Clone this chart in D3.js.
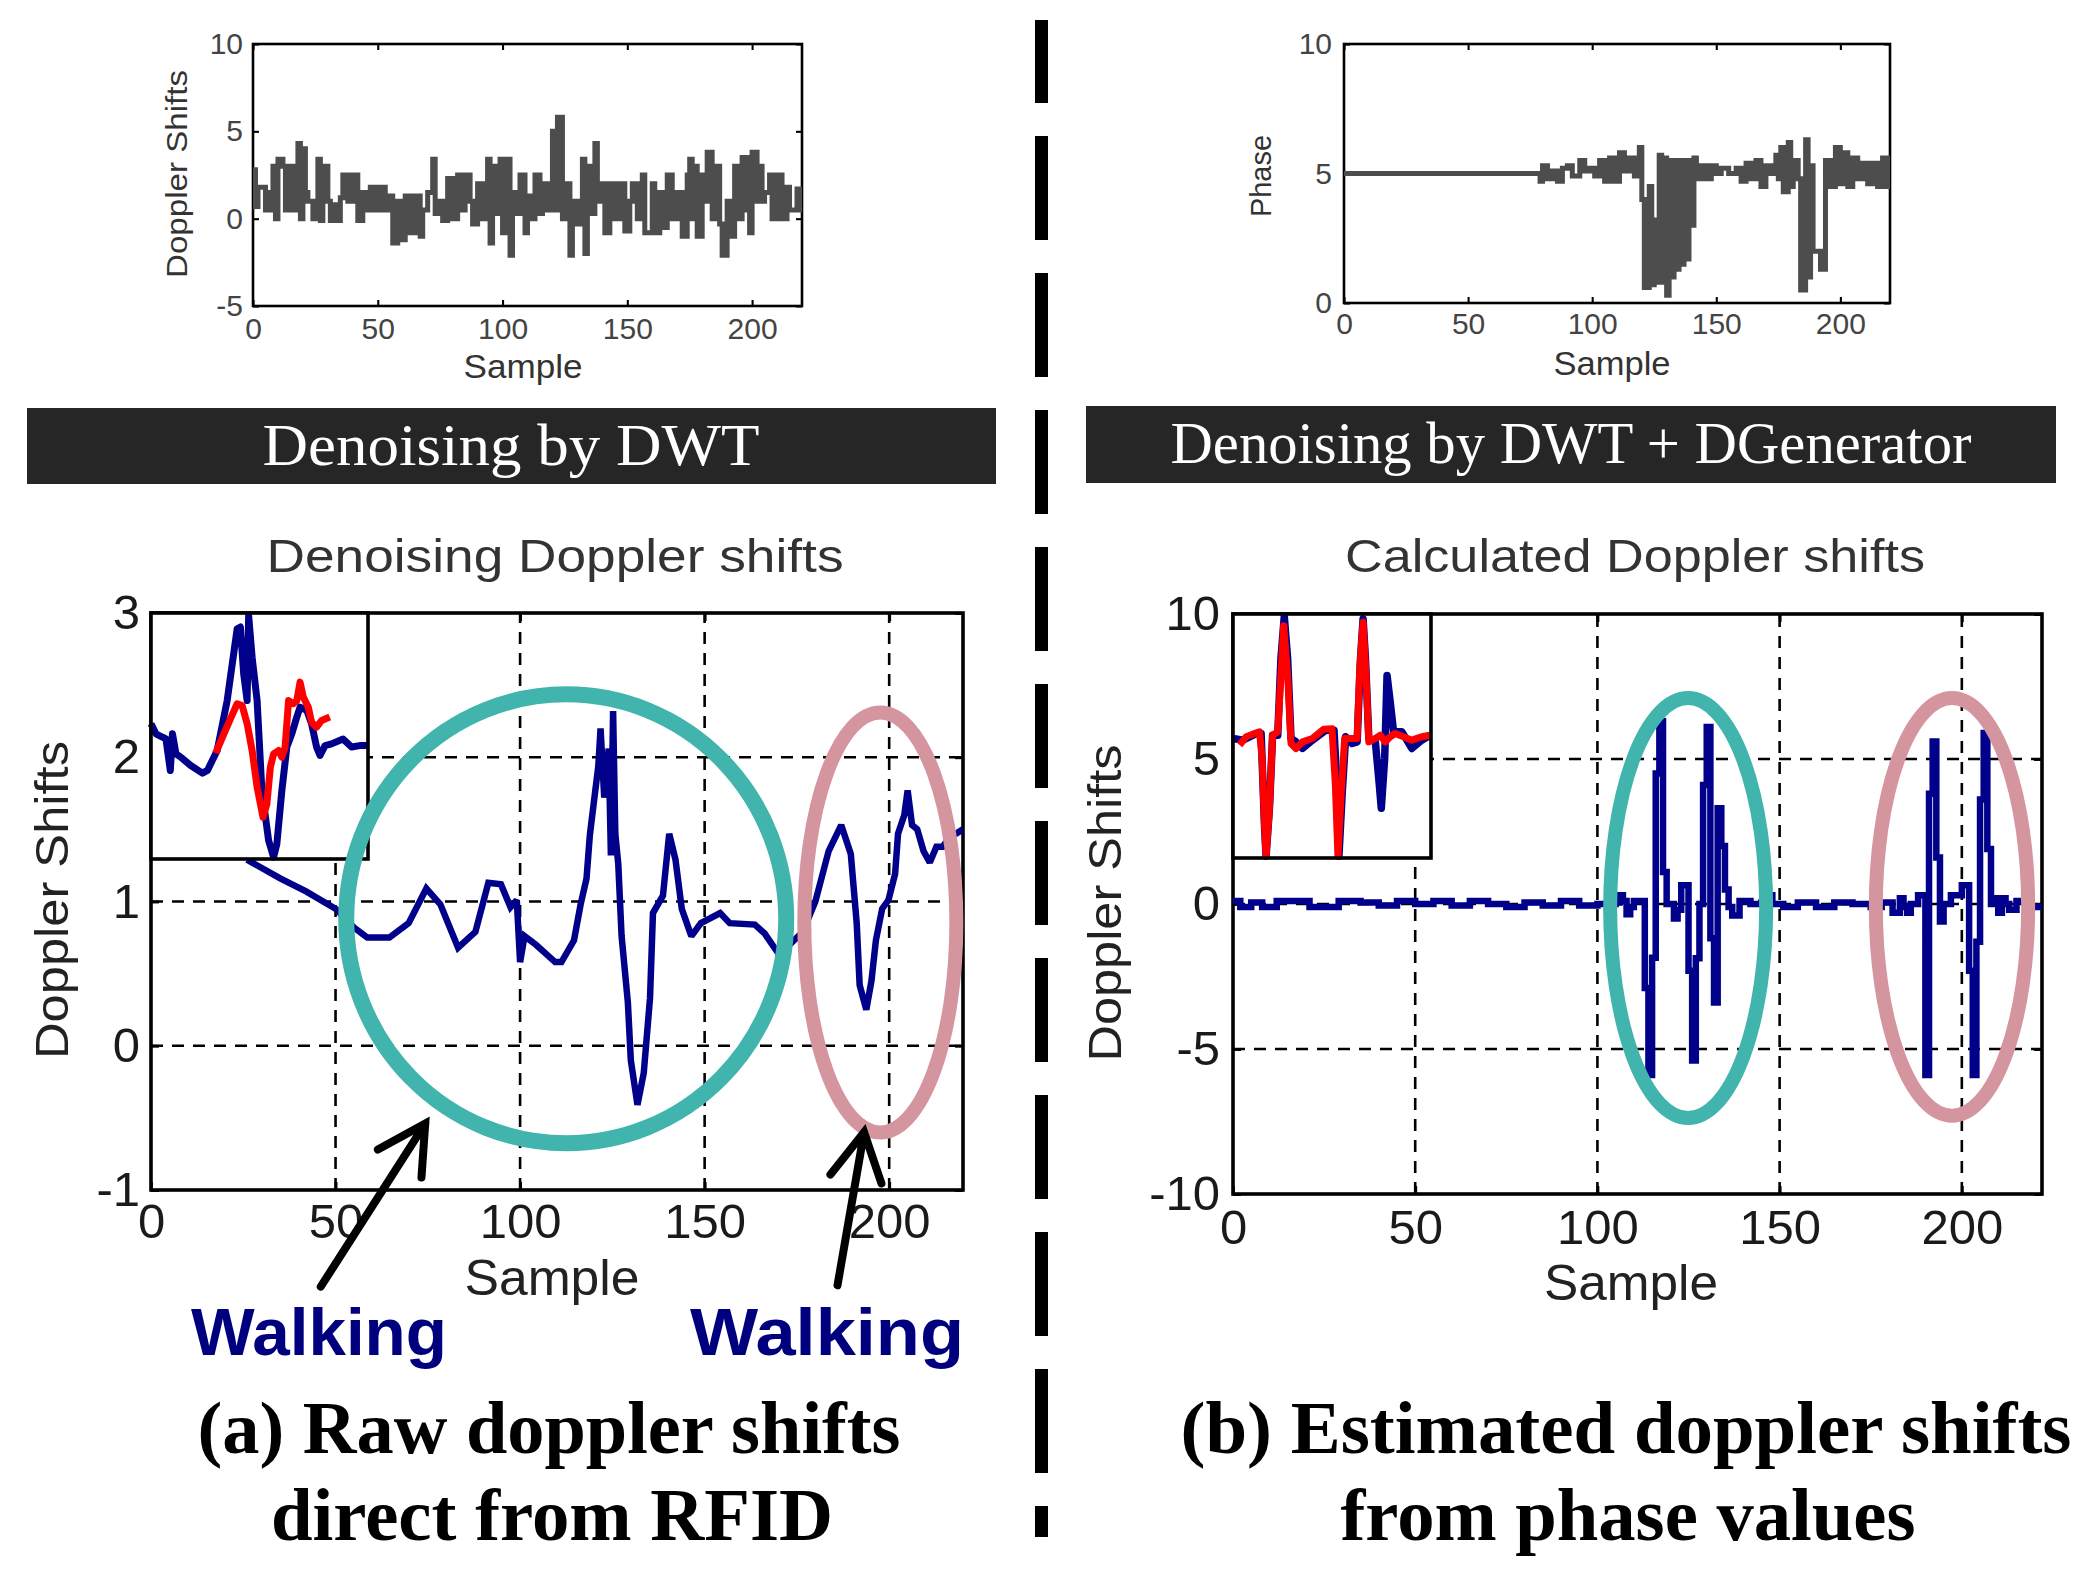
<!DOCTYPE html>
<html><head><meta charset="utf-8">
<script src="https://cdn.jsdelivr.net/npm/d3@7"></script>
<style>body{margin:0;background:#fff} svg{display:block}</style>
</head><body><svg id="c" width="2097" height="1583"></svg>
<script>
// ---------------- DATA ----------------
const sampleTicks = [0, 50, 100, 150, 200];
const rawDopplerTicksY = [-5, 0, 5, 10];
const phaseTicksY = [0, 5, 10];
const denoisedTicksY = [-1, 0, 1, 2, 3];
const calculatedTicksY = [-10, -5, 0, 5, 10];

// top-left: raw Doppler shifts [sample, value]
const rawDoppler = [[0,2.8],[1,0.7],[2,1.8],[4,1.8],[5,0.5],[7,1.5],[8,3.0],[9,0.0],[10,3.4],[12,3.0],[13,0.5],[15,3.0],[16,0.5],[17,2.0],[18,4.3],[19,0.0],[20,4.0],[21,1.5],[22,1.0],[24,0.0],[25,1.0],[26,3.4],[27,-0.1],[28,3.0],[30,1.0],[31,-0.1],[33,0.8],[34,-0.1],[35,1.2],[36,2.5],[38,1.0],[40,2.5],[42,-0.1],[44,1.5],[45,0.5],[47,1.8],[49,0.5],[51,1.8],[53,0.5],[55,1.3],[56,-1.4],[58,1.0],[60,-1.2],[61,1.3],[63,-0.8],[65,1.3],[67,-1.0],[68,0.5],[70,1.5],[72,3.4],[73,0.3],[75,1.0],[76,-0.1],[78,2.3],[80,0.0],[82,2.5],[83,0.5],[85,2.5],[87,1.0],[88,-0.3],[90,2.0],[92,0.0],[94,3.4],[95,-1.4],[96,3.0],[98,0.3],[99,3.4],[100,-0.8],[101,3.4],[103,-2.1],[104,1.5],[106,0.3],[107,2.5],[109,-0.8],[110,1.3],[112,0.0],[113,2.5],[115,0.3],[116,2.0],[118,0.5],[120,5.0],[121,0.5],[122,5.8],[124,0.0],[125,2.0],[127,-2.1],[128,1.0],[130,-0.3],[132,3.4],[133,-2.0],[134,3.0],[135,0.3],[137,4.3],[138,1.0],[139,2.0],[141,-0.8],[143,2.0],[145,0.0],[147,2.0],[149,-0.7],[151,1.0],[152,2.0],[154,0.0],[156,2.5],[157,-0.8],[160,2.0],[161,-0.8],[163,1.5],[164,-0.5],[166,2.5],[168,0.0],[170,1.5],[172,-1.0],[174,2.5],[175,3.4],[176,0.0],[177,3.0],[178,-1.0],[180,2.5],[181,1.0],[182,3.8],[184,0.0],[185,3.0],[187,-0.3],[188,-2.1],[190,1.0],[191,-1.0],[193,3.0],[194,0.0],[196,3.5],[197,0.5],[198,3.5],[199,-0.8],[200,3.8],[202,1.0],[203,3.0],[204,1.0],[205,1.5],[207,2.5],[208,0.0],[210,2.5],[212,0.0],[214,1.8],[215,0.5],[218,1.7],[219,0.5],[220,1.6]];

// top-right: phase [sample, value]
const phaseValues = [[0,5.0],[78,5.0],[79,4.7],[80,5.3],[82,4.8],[84,5.1],[86,4.7],[88,5.2],[90,5.3],[92,4.9],[95,5.5],[97,5.1],[99,5.2],[101,4.9],[103,5.5],[105,4.7],[107,5.6],[109,4.7],[111,5.8],[113,5.1],[115,5.6],[117,4.9],[119,6.0],[120,4.0],[121,0.6],[122,0.6],[123,4.5],[124,0.7],[125,3.2],[126,0.8],[127,5.7],[128,0.8],[129,5.6],[130,0.3],[131,5.5],[132,1.0],[133,5.5],[134,1.3],[135,5.5],[136,1.5],[137,5.5],[138,1.7],[139,5.5],[140,3.0],[141,5.6],[142,4.8],[144,5.3],[146,4.8],[148,5.3],[150,5.0],[152,5.2],[155,5.0],[158,5.2],[160,4.7],[162,5.4],[164,4.8],[166,5.5],[168,4.5],[170,5.3],[172,5.0],[174,5.7],[175,4.8],[176,6.0],[177,4.3],[179,6.2],[180,4.5],[181,5.5],[183,4.8],[184,0.5],[186,6.3],[187,1.0],[188,5.3],[189,2.0],[191,2.0],[192,1.3],[193,1.3],[194,5.5],[196,4.5],[198,6.0],[200,4.6],[201,5.8],[203,4.5],[205,5.6],[207,4.8],[209,5.4],[211,4.6],[213,5.4],[215,4.5],[217,5.6],[219,4.5],[220,5.3]];

// bottom-left: denoised Doppler shifts [sample, value]
const denoisedDoppler = [[26,1.29],[35,1.16],[42,1.07],[50,0.95],[55,0.82],[58.6,0.75],[64.6,0.75],[69.8,0.85],[74.6,1.09],[78.4,0.98],[83.2,0.68],[87.9,0.79],[91.4,1.13],[94.8,1.12],[97.4,0.96],[99.1,1.01],[100,0.58],[101.2,0.76],[104.3,0.70],[109.5,0.58],[111.2,0.58],[114.6,0.73],[116.4,0.98],[118,1.16],[118.9,1.46],[120,1.69],[121.2,1.94],[121.8,2.2],[122.8,1.72],[124,2.06],[124.6,1.32],[125.2,2.32],[125.8,1.47],[126.6,1.26],[127.5,0.76],[129.2,0.30],[130,-0.10],[131.8,-0.41],[133.5,-0.19],[135.2,0.33],[136,0.92],[138.7,1.04],[140.4,1.47],[142.1,1.29],[143.8,0.95],[146.4,0.76],[149,0.85],[154.2,0.92],[156.8,0.85],[163.6,0.84],[166.2,0.78],[169.7,0.65],[173,0.70],[176.6,0.79],[180,1.0],[183.6,1.35],[187,1.53],[189.6,1.33],[191.2,0.85],[192,0.42],[193.8,0.25],[195.2,0.45],[196.4,0.73],[198.1,0.95],[199.8,1.01],[201.6,1.19],[202.4,1.47],[204.1,1.60],[205,1.77],[206.2,1.53],[207.6,1.50],[209.3,1.35],[211,1.27],[212.8,1.38],[214.5,1.38],[216.2,1.44],[220,1.5]];

// bottom-left inset (zoomed view, normalised 0..100)
const denoisedInsetBlue = [[0,55],[2.3,50.9],[5.3,49.5],[6.9,48.8],[8.9,36],[9.9,50.9],[11.5,42.7],[13.7,41.4],[18.3,38],[23.7,34.9],[26,36],[30.5,44.1],[35.1,64.4],[39.7,93.6],[41.2,94.3],[42.7,75.3],[44.3,64.4],[45,99],[46.6,82],[48.9,64.4],[51.1,27.8],[54.2,7.5],[56.5,0.7],[58,6.1],[60.3,27.8],[62.6,45.5],[64.9,50.9],[67.2,57.7],[68.7,61.7],[71.8,60.4],[74,55],[76.3,45.5],[77.9,42.1],[80.2,46.1],[83.2,46.8],[88.5,48.8],[92.4,45.5],[96.2,46.1],[100,46.1]];
const denoisedInsetRed = [[29.8,43],[33.6,50.9],[36.6,57],[39.7,63.1],[42,62.4],[44.3,55],[46.6,44.1],[48.9,29.2],[51.6,17],[53.4,22.4],[55,37.3],[56.5,42.7],[58.8,44.1],[60.3,41.4],[61.8,45.5],[63.4,64.4],[65.6,63.1],[67.2,64.4],[68.7,71.9],[70.2,65.8],[72.5,61.7],[74,55.6],[76.3,53.6],[78.6,56.3],[82.4,57.7]];

// bottom-right: calculated Doppler shifts [sample, value] (held per sample)
const calculatedDoppler = [[0,0.1],[2,-0.1],[5,0.05],[8,-0.1],[12,0.1],[20,0.1],[21,-0.1],[28,-0.1],[29,0.1],[35,0.05],[40,-0.05],[45,0.1],[50,0],[55,0.1],[60,-0.05],[65,0.1],[70,0],[75,-0.1],[80,0.05],[85,-0.05],[90,0.1],[95,-0.05],[100,0],[105,0.05],[106,0.3],[107,0.1],[108,-0.35],[109,-0.1],[110,0.1],[112,0.1],[113,-2.9],[114,-5.9],[115,-1.85],[116,4.5],[117,6.3],[118,1.1],[119,0.0],[120,0.0],[121,-0.5],[122,-0.2],[123,0.65],[125,-2.3],[126,-5.4],[127,-1.87],[128,0.0],[129,4.1],[130,6.1],[131,-1.18],[132,-3.4],[133,3.3],[134,2.0],[135,0.5],[136,-0.1],[137,-0.4],[139,0.1],[142,0.0],[145,0.05],[147,0.3],[148,0.0],[151,-0.1],[155,0.05],[160,-0.1],[165,0.05],[170,0],[175,-0.1],[178,0.05],[181,-0.3],[183,0.2],[184,-0.1],[185,-0.3],[186,0.0],[188,0.3],[190,-5.9],[191,3.8],[192,5.6],[193,1.6],[194,-0.6],[195,0.0],[197,0.3],[200,0.65],[202,-2.3],[203,-5.9],[204,-1.3],[205,3.6],[206,5.9],[207,1.9],[208,0.0],[209,0.2],[210,-0.3],[211,0.2],[212,0.0],[213,-0.2],[215,0.1],[218,-0.1],[222,0]];

// bottom-right inset (zoomed view, normalised 0..100)
const calcInsetBlue = [[0,49],[5,48.3],[11.7,51],[14.2,51],[15.9,13.6],[16.7,0.7],[18.4,20.4],[20,50.3],[22.6,50.3],[24.2,81.6],[25.9,99],[27.6,81.6],[29.3,49],[31.8,47.6],[35.1,44.9],[40.1,48.3],[46.8,52.4],[51,52.4],[52.7,27.2],[53.5,0.7],[55.2,27.2],[56.9,49.7],[60.2,46.9],[62.7,47.6],[64.4,81.6],[65.7,98],[66.9,81.6],[68.6,49],[71.9,47.6],[73.6,32.7],[74.9,20.4],[76.6,40.8],[77.8,74.8],[79.4,64],[81.1,51.7],[85.3,51.7],[90.3,44.9],[95.3,48.3],[99.5,50.3]];
const calcInsetRed = [[3.3,46.3],[6.7,49.7],[10.9,51],[13.4,51.7],[14.7,40.8],[15.9,13.6],[16.7,0.7],[18.4,20.4],[20,50.3],[22.6,51.7],[24.2,74.8],[25.6,95.2],[27.6,74.8],[29.3,46.9],[31.8,44.9],[35.1,47.6],[40.1,49],[45.8,52.8],[50,53],[51.7,29.9],[53,0.7],[54.7,27.2],[56.4,49],[60.2,49],[62.7,49],[64,77.6],[65.7,96.6],[67.2,74.8],[68.6,47.6],[71.9,49],[74.4,50.3],[76.9,47.6],[79.4,49.7],[81.9,51],[86.1,49.7],[90.3,48.3],[95.3,49.7],[99.5,50.3]];

// annotations in data units [centerSample, centerValue, radiusSamples, radiusValue]
const denoisedRings = [[112.5, 0.88, 59.6, 1.556], [197.6, 0.855, 20.6, 1.456]];
const calculatedRings = [[124.9, -0.14, 21.4, 7.24], [197.3, -0.10, 20.9, 7.2]];
// arrows [tailSample, tailValue, tipSample, tipValue]
const walkingArrows = [[46, -1.67, 74.3, -0.54], [186, -1.66, 193.2, -0.6]];

// ---------------- DRAWING ----------------
const svg = d3.select('#c');
const SANS = "'Liberation Sans', Arial, Helvetica, sans-serif";
const SERIF = "'Liberation Serif', 'Times New Roman', serif";
const BLUE = '#00008b';
const RED = '#ff0000';
const TEAL = '#41b4ad';
const PINK = '#d4959f';
const plain = d => String(d);
let clipId = 0;

function makePlot(o) {
  const g = svg.append('g');
  const x = d3.scaleLinear().domain(o.xDomain).range([o.left, o.right]);
  const y = d3.scaleLinear().domain(o.yDomain).range([o.bottom, o.top]);
  const cid = 'clip' + (clipId++);
  svg.append('clipPath').attr('id', cid).append('rect')
    .attr('x', o.left).attr('y', o.top).attr('width', o.right - o.left).attr('height', o.bottom - o.top);
  if (o.grid) {
    const gg = g.append('g').attr('stroke', '#000').attr('stroke-width', 2.6).attr('stroke-dasharray', '12,9');
    gg.selectAll('.vx').data(o.xTicks.filter(t => t > o.xDomain[0] && t < o.xDomain[1])).enter().append('line')
      .attr('x1', d => x(d)).attr('x2', d => x(d)).attr('y1', o.bottom).attr('y2', o.top);
    gg.selectAll('.hy').data(o.yTicks.filter(t => t > o.yDomain[0] && t < o.yDomain[1])).enter().append('line')
      .attr('y1', d => y(d)).attr('y2', d => y(d)).attr('x1', o.left).attr('x2', o.right);
  }
  const axB = g.append('g').attr('transform', `translate(0,${o.bottom})`)
    .call(d3.axisBottom(x).tickValues(o.xTicks).tickFormat(plain).tickSizeInner(-o.tick).tickSizeOuter(0).tickPadding(o.xPad));
  const axL = g.append('g').attr('transform', `translate(${o.left},0)`)
    .call(d3.axisLeft(y).tickValues(o.yTicks).tickFormat(plain).tickSizeInner(-o.tick).tickSizeOuter(0).tickPadding(o.yPad));
  const axT = g.append('g').attr('transform', `translate(0,${o.top})`)
    .call(d3.axisTop(x).tickValues(o.xTicks).tickSizeInner(-o.tick).tickSizeOuter(0).tickFormat(''));
  const axR = g.append('g').attr('transform', `translate(${o.right},0)`)
    .call(d3.axisRight(y).tickValues(o.yTicks).tickSizeInner(-o.tick).tickSizeOuter(0).tickFormat(''));
  [axB, axL, axT, axR].forEach(a => {
    a.select('.domain').remove();
    a.selectAll('line').attr('stroke', '#000').attr('stroke-width', o.box * 0.8);
    a.selectAll('text').attr('fill', o.tickColor).style('font-family', SANS).style('font-size', o.tickFont + 'px');
  });
  g.append('rect').attr('x', o.left).attr('y', o.top).attr('width', o.right - o.left).attr('height', o.bottom - o.top)
    .attr('fill', 'none').attr('stroke', '#000').attr('stroke-width', o.box);
  return { g, x, y, clip: `url(#${cid})`, o };
}

function drawLine(p, data, color, width, curve) {
  p.g.append('path').datum(data)
    .attr('clip-path', p.clip)
    .attr('fill', 'none').attr('stroke', color).attr('stroke-width', width)
    .attr('stroke-linejoin', 'miter').attr('stroke-miterlimit', 2)
    .attr('d', d3.line().x(d => p.x(d[0])).y(d => p.y(d[1])).curve(curve || d3.curveLinear));
}

function label(txt, x, y, size, opts) {
  opts = opts || {};
  const t = svg.append('text').attr('x', x).attr('y', y).text(txt)
    .attr('text-anchor', 'middle')
    .style('font-family', opts.family || SANS).style('font-size', size + 'px')
    .attr('fill', opts.fill || '#222');
  if (opts.bold) t.style('font-weight', 'bold');
  if (opts.len) t.attr('textLength', opts.len).attr('lengthAdjust', 'spacingAndGlyphs');
  if (opts.rotate) t.attr('transform', `rotate(-90,${x},${y})`).attr('dominant-baseline', 'central');
  return t;
}

function inset(p, w, h, blue, red, bw, rw) {
  const ix = d3.scaleLinear().domain([0, 100]).range([p.o.left, p.o.left + w]);
  const iy = d3.scaleLinear().domain([0, 100]).range([p.o.top + h, p.o.top]);
  const ig = p.g.append('g');
  ig.append('rect').attr('x', p.o.left).attr('y', p.o.top).attr('width', w).attr('height', h).attr('fill', '#fff');
  const ln = d3.line().x(d => ix(d[0])).y(d => iy(d[1]));
  ig.append('path').datum(blue).attr('fill', 'none').attr('stroke', BLUE).attr('stroke-width', bw).attr('stroke-linejoin', 'round').attr('d', ln);
  ig.append('path').datum(red).attr('fill', 'none').attr('stroke', RED).attr('stroke-width', rw).attr('stroke-linejoin', 'round').attr('d', ln);
  ig.append('rect').attr('x', p.o.left).attr('y', p.o.top).attr('width', w).attr('height', h)
    .attr('fill', 'none').attr('stroke', '#000').attr('stroke-width', 3.6);
}

function rings(p, list, colors, widths) {
  p.g.selectAll(null).data(list).enter().append('ellipse')
    .attr('cx', d => p.x(d[0])).attr('cy', d => p.y(d[1]))
    .attr('rx', d => p.x(d[0] + d[2]) - p.x(d[0]))
    .attr('ry', d => p.y(d[1]) - p.y(d[1] + d[3]))
    .attr('fill', 'none').attr('stroke', (d, i) => colors[i]).attr('stroke-width', (d, i) => widths[i]);
}

// ---- top-left: raw doppler
const pTL = makePlot({ left: 253, right: 802, top: 44, bottom: 306, xDomain: [0, 220], yDomain: [-5, 10],
  xTicks: sampleTicks, yTicks: rawDopplerTicksY, tick: 6, box: 2.6, tickFont: 30, xPad: 12, yPad: 10, tickColor: '#444' });
drawLine(pTL, rawDoppler, '#4d4d4d', 5, d3.curveStepAfter);
label('Sample', 523, 378, 33, { len: 119, fill: '#333' });
label('Doppler Shifts', 176, 174, 30, { rotate: true, len: 208, fill: '#333' });

// ---- top-right: phase
const pTR = makePlot({ left: 1344, right: 1890, top: 44, bottom: 303, xDomain: [0, 220], yDomain: [0, 10],
  xTicks: sampleTicks, yTicks: phaseTicksY, tick: 6, box: 2.6, tickFont: 30, xPad: 10, yPad: 12, tickColor: '#444' });
drawLine(pTR, phaseValues, '#4d4d4d', 5, d3.curveStepAfter);
label('Sample', 1612, 375, 33, { len: 117, fill: '#333' });
label('Phase', 1260, 176, 30, { rotate: true, len: 82, fill: '#333' });

// ---- banners
svg.append('rect').attr('x', 27).attr('y', 408).attr('width', 969).attr('height', 76).attr('fill', '#262626');
svg.append('rect').attr('x', 1086).attr('y', 406).attr('width', 970).attr('height', 77).attr('fill', '#262626');
label('Denoising by DWT', 511, 465, 60, { family: SERIF, fill: '#fff', len: 497 });
label('Denoising by DWT + DGenerator', 1571, 463, 60, { family: SERIF, fill: '#fff', len: 801 });

// ---- vertical dashed separator
svg.append('line').attr('x1', 1041.5).attr('x2', 1041.5).attr('y1', 20).attr('y2', 1537)
  .attr('stroke', '#000').attr('stroke-width', 13).attr('stroke-dasharray', '104,33').attr('stroke-dashoffset', 21);

// ---- bottom-left: denoised doppler
const pBL = makePlot({ left: 151, right: 963, top: 613, bottom: 1190, xDomain: [0, 220], yDomain: [-1, 3],
  xTicks: sampleTicks, yTicks: denoisedTicksY, tick: 8, box: 3.6, tickFont: 49, xPad: 13, yPad: 11, grid: true, tickColor: '#1a1a1a' });
drawLine(pBL, denoisedDoppler, BLUE, 6.5);
inset(pBL, 217, 246, denoisedInsetBlue, denoisedInsetRed, 7, 7);
rings(pBL, denoisedRings, [TEAL, PINK], [16, 14]);
label('Denoising Doppler shifts', 555, 572, 46, { len: 577, fill: '#333' });
label('Sample', 552, 1295, 50, { len: 175, fill: '#222' });
label('Doppler Shifts', 52, 900, 46, { rotate: true, len: 318, fill: '#222' });

// arrows
walkingArrows.forEach(a => {
  const tx = pBL.x(a[0]), ty = pBL.y(a[1]), hx = pBL.x(a[2]), hy = pBL.y(a[3]);
  const ang = Math.atan2(ty - hy, tx - hx);
  const L = 54, sp = 0.5;
  const path = d3.path();
  path.moveTo(tx, ty); path.lineTo(hx, hy);
  path.moveTo(hx + L * Math.cos(ang - sp), hy + L * Math.sin(ang - sp)); path.lineTo(hx, hy);
  path.lineTo(hx + L * Math.cos(ang + sp), hy + L * Math.sin(ang + sp));
  svg.append('path').attr('d', path.toString()).attr('fill', 'none').attr('stroke', '#000')
    .attr('stroke-width', 8).attr('stroke-linecap', 'round').attr('stroke-linejoin', 'miter');
});
label('Walking', 319, 1355, 66, { bold: true, fill: '#00007f', len: 256 });
label('Walking', 827, 1355, 66, { bold: true, fill: '#00007f', len: 274 });

// ---- bottom-right: calculated doppler
const pBR = makePlot({ left: 1233, right: 2042, top: 614, bottom: 1194, xDomain: [0, 222], yDomain: [-10, 10],
  xTicks: sampleTicks, yTicks: calculatedTicksY, tick: 8, box: 3.6, tickFont: 49, xPad: 15, yPad: 13, grid: true, tickColor: '#1a1a1a' });
drawLine(pBR, calculatedDoppler, BLUE, 6.5, d3.curveStepAfter);
inset(pBR, 198, 244, calcInsetBlue, calcInsetRed, 7.5, 7);
rings(pBR, calculatedRings, [TEAL, PINK], [14, 14]);
label('Calculated Doppler shifts', 1635, 572, 46, { len: 580, fill: '#333' });
label('Sample', 1631, 1300, 50, { len: 174, fill: '#222' });
label('Doppler Shifts', 1105, 903, 46, { rotate: true, len: 317, fill: '#222' });

// ---- captions
label('(a) Raw doppler shifts', 549, 1453, 73, { family: SERIF, bold: true, fill: '#000', len: 703 });
label('direct from RFID', 552, 1540, 73, { family: SERIF, bold: true, fill: '#000', len: 562 });
label('(b) Estimated doppler shifts', 1626, 1453, 73, { family: SERIF, bold: true, fill: '#000', len: 891 });
label('from phase values', 1628, 1540, 73, { family: SERIF, bold: true, fill: '#000', len: 575 });
</script></body></html>
